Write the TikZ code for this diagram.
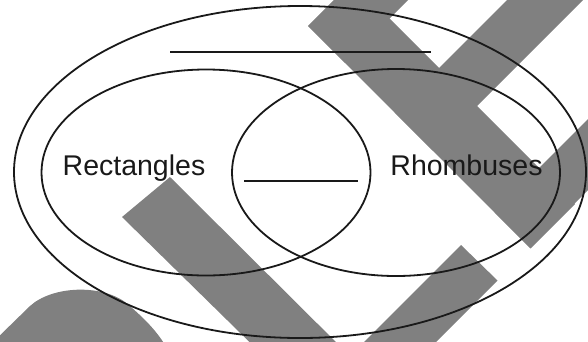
\documentclass[tikz,border=0pt]{standalone}
\usepackage{fontspec}
\setmainfont{Liberation Sans}
\usetikzlibrary{shapes.geometric}

\definecolor{markgray}{RGB}{128,128,128}
\definecolor{inkblack}{RGB}{25,25,25}

\begin{document}
\begin{tikzpicture}[
    x=1pt, y=-1pt,
    setline/.style={draw=inkblack, line width=1.8pt},
    setshape/.style={ellipse, setline, inner sep=0pt},
    label/.style={font=\fontsize{28.5}{30}\selectfont, text=inkblack, inner sep=0pt, anchor=base},
    blank/.style={draw=inkblack, line width=1.2pt},
]
    \useasboundingbox (0,0) rectangle (588,341);
    \clip (0,0) rectangle (588,341);

    % watermark bands
    \fill[markgray] (308,26) -- (352.5,-18.5) -- (575,204) -- (530.5,248.5) -- cycle;
    \fill[markgray] (308,26) -- (345,63) -- (504,-96) -- (467,-133) -- cycle;
    \fill[markgray] (394.5,112.5) -- (432.5,150.5) -- (641.5,-58.5) -- (603.5,-96.5) -- cycle;
    \fill[markgray] (494.5,212.5) -- (530,248) -- (789,-11) -- (753.5,-46.5) -- cycle;
    \fill[markgray] (461,245) -- (497.5,280.5) -- (410,368) -- (338,368) -- cycle;
    \fill[markgray] (122,217) -- (170,177) -- (365,371) -- (279,371) -- cycle;
    \fill[markgray] (-10,345) -- (30,306) .. controls (52,286) and (100,284) .. (125,302)
        .. controls (142,316) and (156,330) .. (165,345) -- cycle;

    % sets
    \node[setshape, minimum width=572pt, minimum height=332pt] (outer) at (300,172) {};
    \node[setshape, minimum width=329pt, minimum height=206pt] (rect) at (206,172.5) {};
    \node[setshape, minimum width=328pt, minimum height=207pt] (rhomb) at (396,172.5) {};

    \node[label] (rectlabel) at (134,175) {Rectangles};
    \node[label] (rhomblabel) at (466.5,175) {Rhombuses};

    % blanks to fill in
    \coordinate (topL) at (170,52);
    \coordinate (topR) at (431,52);
    \coordinate (midL) at (244,181);
    \coordinate (midR) at (358,181);
    \draw[blank] (topL) -- (topR);
    \draw[blank] (midL) -- (midR);
\end{tikzpicture}
\end{document}
